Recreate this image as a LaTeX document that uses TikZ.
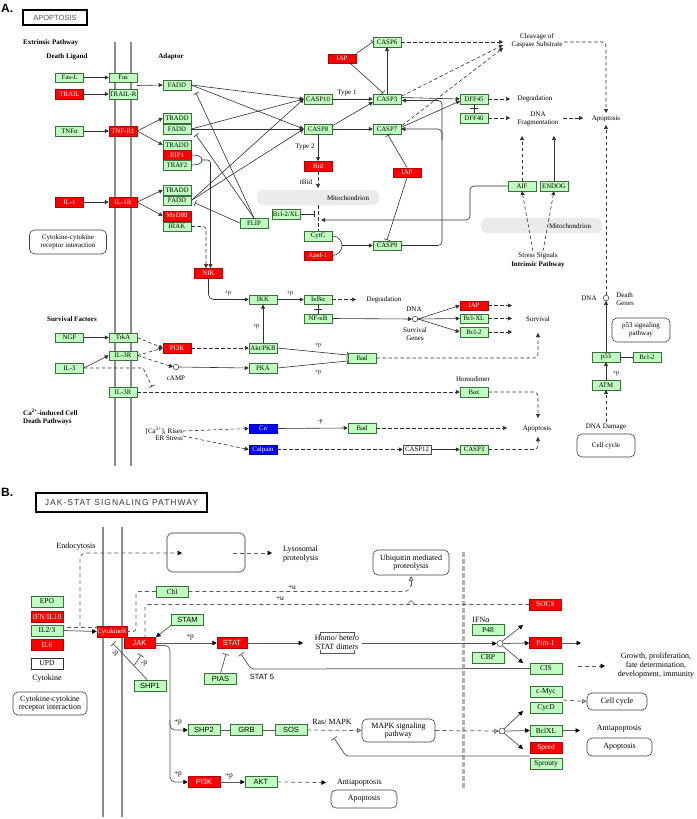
\documentclass[tikz,border=0pt]{standalone}
\usepackage{fontspec}
\setmainfont{Liberation Serif}
\newfontfamily\lsans{Liberation Sans}
\newfontfamily\jsfont[LetterSpace=12]{Liberation Sans}
\usetikzlibrary{arrows.meta}
\definecolor{kgreen}{HTML}{BFFFBF}
\definecolor{kgdraw}{HTML}{3C6E3C}
\definecolor{kred}{HTML}{FF0000}
\definecolor{kblue}{HTML}{0000FF}
\definecolor{kline}{HTML}{303030}
\definecolor{klineb}{HTML}{5A5A5A}
\newcommand\kfa{\fontsize{6.8}{7.2}\selectfont}
\newcommand\kfl{\fontsize{7}{7.6}\selectfont}
\newcommand\kfb{\fontsize{7.5}{8}\selectfont}
\newcommand\kfbs{\lsans\fontsize{7.5}{8}\selectfont}
\newcommand\kflb{\fontsize{8}{8.6}\selectfont}
\newcommand\kfp{\fontsize{6}{6}\selectfont}
\tikzset{
 gb/.style={draw=kgdraw, fill=kgreen, minimum width=28pt, minimum height=9.5pt, inner sep=0pt, font=\kfa, line width=0.5pt},
 rb/.style={gb, fill=kred, draw=kred!70!black, text=white},
 bb/.style={gb, fill=kblue, draw=kblue!60!black, text=white},
 wb/.style={gb, fill=white, draw=black!70},
 gbb/.style={gb, minimum width=32pt, minimum height=11pt, font=\kfb},
 rbb/.style={gbb, fill=kred, draw=kred!70!black, text=white},
 wbb/.style={gbb, fill=white, draw=black!80},
 lbl/.style={inner sep=0pt, align=center, font=\kfl},
 lblb/.style={inner sep=0pt, align=center, font=\kflb},
 lbold/.style={inner sep=0pt, align=left, font=\kfl\bfseries},
 pl/.style={inner sep=0pt, font=\kfp},
 rnd/.style={draw=black!75, rounded corners=5pt, align=center, inner sep=0pt, line width=0.6pt},
 ln/.style={draw=kline, line width=0.6pt},
 arr/.style={ln, -{Triangle[length=4pt,width=4pt]}},
 inh/.style={ln, -{Bar[width=6pt]}},
 dsh/.style={dash pattern=on 3.5pt off 2.5pt},
 lnb/.style={draw=klineb, line width=0.75pt},
 arrb/.style={lnb, -{Triangle[length=4.5pt,width=4.5pt,color=black]}},
 inhb/.style={lnb, -{Bar[width=7pt]}},
 oarrb/.style={lnb, -{Triangle[open,length=4.5pt,width=4.5pt]}},
 dshb/.style={dash pattern=on 4pt off 3pt},
 mem/.style={draw=black!45, line width=2.2pt},
 cir/.style={circle, draw=black!80, line width=0.5pt, minimum size=5.5pt, inner sep=0pt},
}
\begin{document}
\begin{tikzpicture}[x=1pt,y=-1pt]
\useasboundingbox (0,0) rectangle (696,819);
\fill[white] (0,0) rectangle (696,819);

%%%%%%%%%%%%%%%%%%%% PANEL A %%%%%%%%%%%%%%%%%%%%
\node[anchor=west, inner sep=0pt, font=\lsans\bfseries\fontsize{12}{12}\selectfont] (Alab) at (1,8) {A.};
\node[draw=black, line width=1.3pt, minimum width=64pt, minimum height=15pt, inner sep=0pt,
      font=\lsans\fontsize{7.5}{8}\selectfont, text=black!65] (apobox) at (55,17.5) {APOPTOSIS};

\draw[mem] (115,42) -- (115,466);
\draw[mem] (131,42) -- (131,466);

\fill[black!8, rounded corners=6pt] (257,190) rectangle (379,205);
\node[lbl] (mito1) at (348,198) {Mitochondrion};
\fill[black!8, rounded corners=6pt] (481,218) rectangle (602,233);
\node[lbl] (mito2) at (570,226) {Mitochondrion};

\node[lbold, anchor=west] (extp) at (23,43) {Extrinsic Pathway};
\node[lbold] (dlig) at (67,57) {Death Ligand};
\node[lbold] (adap) at (171,57) {Adaptor};

\node[gb] (FasL) at (69.5,77.5) {Fas-L};
\node[gb] (Fas) at (123,77.5) {Fas};
\node[rb] (TRAIL) at (69.5,94) {TRAIL};
\node[gb] (TRAILR) at (123,94) {TRAIL-R};
\node[gb] (FADD1) at (177,85) {FADD};
\node[gb] (TNFa) at (69.5,131) {TNFα};
\node[rb] (TNFR1) at (123,131) {TNF-R1};
\node[gb] (TRADD1) at (177,118) {TRADD};
\node[gb] (FADD2) at (177,129) {FADD};
\node[gb] (TRADD2) at (177,145) {TRADD};
\node[rb] (RIP1) at (177,155) {RIP1};
\node[gb] (TRAF2) at (177,165) {TRAF2};
\node[rb] (IL1) at (69.5,202) {IL-1};
\node[rb] (IL1R) at (123,202) {IL-1R};
\node[gb] (TRADD3) at (177,190) {TRADD};
\node[gb] (FADD3) at (177,200.5) {FADD};
\node[rb] (MyD88) at (177,216) {MyD88};
\node[gb] (IRAK) at (177,226.5) {IRAK};
\node[gb] (FLIP) at (254,223) {FLIP};
\node[gb] (CASP10) at (318,99) {CASP10};
\node[gb] (CASP8) at (318,129) {CASP8};
\node[rb] (Bid) at (318,166) {Bid};
\node[gb] (Bcl2XL) at (286,214) {Bcl-2/XL};
\node[gb] (CytC) at (318,236) {CytC};
\node[rb] (Apaf1) at (318,255.5) {Apaf-1};
\node[gb] (CASP9) at (387,245.5) {CASP9};
\node[rb] (IAP2) at (407,172.5) {IAP};
\node[gb] (CASP3) at (387,99) {CASP3};
\node[gb] (CASP7) at (387,129) {CASP7};
\node[gb] (CASP6) at (387,42) {CASP6};
\node[rb] (IAP1) at (342,58.5) {IAP};
\node[gb] (DFF45) at (474,99) {DFF45};
\node[gb] (DFF40) at (474,118) {DFF40};
\node[gb] (AIF) at (522,186) {AIF};
\node[gb] (ENDOG) at (554,186) {ENDOG};

\node[lbl] (type1) at (347,93) {Type 1};
\node[lbl] (type2) at (305,147) {Type 2};
\node[lbl] (tbid) at (306,182) {tBid};
\node[lbl] (cleav) at (537,41) {Cleavage of\\Caspase Substrate};
\node[lbl] (degr1) at (535,99) {Degradation};
\node[lbl] (dnafr) at (538,119) {DNA\\Fragmentation};
\node[lbl] (apo1) at (606,119) {Apoptosis};
\node[lbl] (stress) at (538,256) {Stress Signals};
\node[lbold, align=center] (intr) at (538,265) {Intrinsic Pathway};
\node[rnd, lbl, minimum width=77pt, minimum height=24pt] (ccri) at (68,242) {Cytokine-cytokine\\receptor interaction};

% extrinsic connectors
\draw[arr] (FasL.east) -- (Fas.west);
\draw[arr] (TRAIL.east) -- (TRAILR.west);
\draw[arr] (TNFa.east) -- (TNFR1.west);
\draw[arr] (IL1.east) -- (IL1R.west);
\coordinate (fasj) at (137,85.5);
\draw[arr] (fasj) -- (FADD1.west);
\draw[arr] (TNFR1.east) -- (TRADD1.west);
\draw[arr] (TNFR1.east) -- (TRADD2.west);
\draw[arr] (IL1R.east) -- (TRADD3.west);
\draw[arr] (IL1R.east) -- (MyD88.west);
\foreach \f in {FADD1,FADD2,FADD3}{
  \draw[arr] (\f.east) -- (CASP10.west);
  \draw[arr] (\f.east) -- (CASP8.west);
}
\draw[inh] (FLIP.north) -- (196,93);
\draw[inh] (FLIP.north) -- (196,135);
\draw[inh] (FLIP.west) -- (195,203);
\draw[arr] (CASP10.east) -- (CASP3.west);
\draw[arr] (332,126) -- (373,102);
\draw[arr] (CASP8.east) -- (CASP7.west);
\draw[arr] (CASP8.south) -- (Bid.north);
\draw[arr, dsh] (Bid.south) -- (318,188);
\draw[ln, dsh] (318,205) -- (CytC.north);
\draw[inh] (Bcl2XL.east) -- (315,214);
\draw[arr, rounded corners=4pt] (AIF.west) -- (470,186) -- (470,220) -- (321,220);
\draw[ln] (CytC.east) to[out=0,in=90] (342,245.5) to[out=-90,in=0] (Apaf1.east);
\draw[arr] (342,245.5) -- (CASP9.west);
\draw[arr, rounded corners=4pt] (CASP9.east) -- (442,245.5) -- (442,100.5) -- (402,100.5);
\draw[arr, rounded corners=4pt] (442,140) |- (CASP7.east);
\draw[inh] (IAP2.north) -- (388,135);
\draw[inh] (IAP2.south) -- (387,240);
\draw[arr] (402,97.5) -- (DFF45.west);
\draw[arr] (402,127) -- (460,101);
\draw[arr] (CASP3.north) -- (CASP6.south);
\draw[inh] (IAP1.north east) -- (CASP6.west);
\draw[inh] (350,63) -- (383,93);
\draw[arr, dsh] (CASP6.east) -- (503,42);
\draw[arr, dsh] (402,96) -- (503,45);
\draw[arr, dsh] (402,125.5) -- (503,48);
\draw[arr, dsh, rounded corners=4pt] (564,42) -- (606,42) -- (606,113);
\draw[arr, dsh] (DFF45.east) -- (510,99);
\draw[arr, dsh] (DFF40.east) -- (510,118);
\draw[arr, dsh] (563,118) -- (583,118);
\draw[ln] (DFF45.south) -- (DFF40.north);
\draw[ln] (470,108.5) -- (478,108.5);
\draw[arr, dsh] (AIF.north) -- (522,136);
\draw[arr] (ENDOG.north) -- (554,136);
\draw[arr, dsh] (533,251) -- (AIF.south);
\draw[arr, dsh] (543,251) -- (ENDOG.south);

% NIK / survival
\node[rb] (NIK) at (208.5,273) {NIK};
\node[gb] (IKK) at (263,299.5) {IKK};
\node[gb] (IkBa) at (318,299.5) {IκBα};
\node[gb] (NFkB) at (318,318.5) {NF-κB};
\node[rb] (IAP3) at (474,305.5) {IAP};
\node[gb] (BclXL) at (474,318.5) {Bcl-XL};
\node[gb] (Bcl2a) at (474,332) {Bcl-2};
\node[gb] (Bad1) at (362,358) {Bad};
\node[rb] (PI3Ka) at (177,348) {PI3K};
\node[gb] (AktPKB) at (263,348) {Akt/PKB};
\node[gb] (PKA) at (263,368) {PKA};
\node[gb] (TrkA) at (123,337.5) {TrkA};
\node[gb] (IL3Ra) at (123,355.5) {IL-3R};
\node[gb] (NGF) at (69.5,337.5) {NGF};
\node[gb] (IL3) at (69.5,368) {IL-3};
\node[gb] (IL3Rb) at (123,392) {IL-3R};
\node[gb] (Bax) at (474,392) {Bax};
\node[bb] (Cn) at (263,428.5) {Cn};
\node[bb] (Calpain) at (263,449.5) {Calpain};
\node[gb] (Bad2) at (362,428) {Bad};
\node[wb] (CASP12) at (417,449.5) {CASP12};
\node[gb] (CASP3b) at (474,449.5) {CASP3};
\node[gb] (p53) at (606,357) {p53};
\node[gb] (Bcl2b) at (647,357) {Bcl-2};
\node[gb] (ATM) at (606,385) {ATM};
\node[cir] (dnac) at (415,319) {};
\node[cir] (camp) at (176,367) {};
\node[cir] (dgc) at (606,298) {};

\node[pl] (p1) at (228,293) {+p};
\node[pl] (p2) at (290,293) {+p};
\node[pl] (p3) at (256,326) {+p};
\node[pl] (p4) at (318,345) {+p};
\node[pl] (p5) at (318,372) {+p};
\node[pl] (p6) at (320,422) {-p};
\node[pl] (p7) at (616,373) {+p};
\node[lbl] (degr2) at (384,300) {Degradation};
\node[lbl] (dnal) at (414,309) {DNA};
\node[lbl] (survg) at (415,334) {Survival\\Genes};
\node[lbl] (surv) at (538,319) {Survival};
\node[lbold] (survf) at (72,319) {Survival Factors};
\node[lbl] (campl) at (176,378) {cAMP};
\node[lbl] (homod) at (473,379) {Homodimer};
\node[lbl] (apo2) at (537,429) {Apoptosis};
\node[lbold, anchor=west] (cadp) at (23,417) {Ca\textsuperscript{2+}-induced Cell\\Death Pathways};
\node[lbl, align=right, anchor=east] (carise) at (183,434) {[Ca\textsuperscript{2+}]\textsubscript{i} Rises\\ER Stress};
\node[lbl] (dnal2) at (589,298) {DNA};
\node[lbl, align=left] (dgen) at (625,299) {Death\\Genes};
\node[rnd, lbl, minimum width=58pt, minimum height=24pt] (p53sp) at (641,330) {p53 signaling\\pathway};
\node[lbl] (dnad) at (606,427) {DNA Damage};
\node[rnd, lbl, minimum width=58pt, minimum height=23pt] (ccyc1) at (606,445.5) {Cell cycle};

\draw[ln] (RIP1.east) to[out=0,in=90] (202,160) to[out=-90,in=0] (TRAF2.east);
\draw[arr, rounded corners=3pt] (202,160) -- (210.5,160) -- (210.5,268);
\draw[arr, dsh, rounded corners=3pt] (IRAK.east) -- (206,226.5) -- (206,268);
\draw[arr, rounded corners=5pt] (NIK.south) |- (IKK.west);
\draw[arr] (IKK.east) -- (IkBa.west);
\draw[arr, dsh] (IkBa.east) -- (356,299.5);
\draw[ln] (IkBa.south) -- (NFkB.north);
\draw[ln] (314,309) -- (322,309);
\draw[arr] (NFkB.east) -- (dnac.west);
\draw[arr] (dnac.east) -- (IAP3.west);
\draw[arr] (dnac.east) -- (BclXL.west);
\draw[arr] (dnac.east) -- (Bcl2a.west);
\draw[arr, dsh] (IAP3.east) -- (512,305.5);
\draw[arr, dsh] (BclXL.east) -- (512,318.5);
\draw[arr, dsh] (Bcl2a.east) -- (512,332);
\draw[arr, dsh, rounded corners=4pt] (Bad1.east) -| (538,333);
\draw[inh] (AktPKB.east) -- (347.5,355);
\draw[inh] (PKA.east) -- (347.5,361);
\draw[arr] (AktPKB.north) -- (IKK.south);
\draw[arr, dsh] (PI3Ka.east) -- (AktPKB.west);
\draw[arr, dsh] (TrkA.east) -- (PI3Ka.west);
\draw[arr, dsh] (IL3Ra.east) -- (PI3Ka.west);
\draw[arr, dsh] (IL3Ra.east) -- (camp.west);
\draw[arr] (NGF.east) -- (TrkA.west);
\draw[arr] (IL3.east) -- (IL3Ra.west);
\draw[inh, dsh] (IL3.east) -- (143,368) -- (152,386.5);
\draw[arr] (camp.east) -- (PKA.west);
\draw[arr, dsh] (IL3Rb.east) -- (Bax.west);
\draw[arr, dsh, rounded corners=4pt] (Bax.east) -| (538,418);
\draw[arr, dsh] (183,431) -- (Cn.west);
\draw[arr, dsh] (183,436) -- (Calpain.west);
\draw[arr] (Cn.east) -- (Bad2.west);
\draw[arr, dsh] (Bad2.east) -- (507,428);
\draw[arr, dsh] (Calpain.east) -- (CASP12.west);
\draw[arr] (CASP12.east) -- (CASP3b.west);
\draw[arr, dsh, rounded corners=4pt] (CASP3b.east) -| (538,437);
\draw[arr] (p53.north) -- (dgc.south);
\draw[arr] (ATM.north) -- (p53.south);
\draw[inh] (Bcl2b.west) -- (p53.east);
\draw[arr, dsh] (606,422) -- (ATM.south);
\draw[arr, dsh] (dgc.north) -- (606,125);

%%%%%%%%%%%%%%%%%%%% PANEL B %%%%%%%%%%%%%%%%%%%%
\node[anchor=west, inner sep=0pt, font=\lsans\bfseries\fontsize{12}{12}\selectfont] (Blab) at (1,492) {B.};
\node[draw=black, line width=1.3pt, minimum width=171pt, minimum height=19pt, inner sep=0pt,
      font=\jsfont\fontsize{8.5}{9}\selectfont, text=black!80] (jsbox) at (121.5,502.5) {JAK-STAT SIGNALING PATHWAY};

\draw[mem] (103,527) -- (103,817);
\draw[mem] (122,527) -- (122,817);
\draw[draw=black!30, line width=3pt, dash pattern=on 5pt off 2pt] (463,552) -- (463,790);
\draw[draw=black!45, line width=1.2pt, rounded corners=6pt] (167,533) rectangle (245,572);

\node[gbb] (EPO) at (47,601.5) {EPO};
\node[rbb] (IFN) at (47,617) {IFN/IL10};
\node[gbb] (IL23) at (47,630.5) {IL2/3};
\node[rbb] (IL6) at (47,645) {IL6};
\node[wbb] (UPD) at (47,663.5) {UPD};
\node[rbb, minimum width=30pt, font=\kfa] (CytR) at (112,631.5) {CytokineR};
\node[rbb, minimum width=31pt, font=\kfbs] (JAK) at (139.5,643) {JAK};
\node[gbb, font=\kfbs] (STAM) at (187.5,619.5) {STAM};
\node[rbb, minimum width=30pt, font=\kfbs] (STAT) at (232,643) {STAT};
\node[gbb] (Cbl) at (172,591.5) {Cbl};
\node[rbb] (SOCS) at (545.5,604.5) {SOCS};
\node[gbb] (P48) at (488,630) {P48};
\node[gbb] (CBP) at (488,657.5) {CBP};
\node[rbb] (Pim1) at (545.5,643) {Pim-1};
\node[gbb] (CIS) at (546,668.5) {CIS};
\node[gbb] (cMyc) at (546,692) {c-Myc};
\node[gbb] (CycD) at (546,707.5) {CycD};
\node[gbb] (BclXLb) at (546,730.5) {BclXL};
\node[rbb] (Spred) at (546,748) {Spred};
\node[gbb] (Sprouty) at (546,763.5) {Sprouty};
\node[gbb, font=\kfbs] (PIAS) at (220.5,679) {PIAS};
\node[gbb, font=\kfbs] (SHP1) at (150,685.5) {SHP1};
\node[gbb, font=\kfbs] (SHP2) at (204,730) {SHP2};
\node[gbb, font=\kfbs] (GRB) at (246.5,730) {GRB};
\node[gbb, font=\kfbs] (SOS) at (291,730) {SOS};
\node[rbb, font=\kfbs] (PI3Kb) at (204,782) {PI3K};
\node[gbb, font=\kfbs] (AKT) at (261,782) {AKT};
\node[cir, minimum size=6pt] (c1) at (500,643.5) {};
\node[cir, minimum size=6pt] (c2) at (502,731) {};

\node[lblb] (endo) at (76,547) {Endocytosis};
\node[lblb, anchor=west, align=left] (lyso) at (283,554) {Lysosomal\\proteolysis};
\node[lblb] (cytk) at (47,679) {Cytokine};
\node[rnd, lblb, minimum width=74pt, minimum height=23pt] (ccri2) at (50,703.5) {Cytokine-cytokine\\receptor interaction};
\node[pl, font=\kfb] (u1) at (292,587) {+u};
\node[pl, font=\kfb] (u2) at (280,598) {+u};
\node[rnd, lblb, minimum width=76pt, minimum height=25pt] (ubiq) at (411,562.5) {Ubiquitin mediated\\proteolysis};
\node[pl, font=\kfb] (pb1) at (190,637) {+p};
\node[lblb] (dimers) at (337,642) {Homo/ hetero\\STAT dimers};
\node[inner sep=0pt, font=\kfbs] (stat5) at (262,677) {STAT 5};
\node[pl, font=\kfb] (mp1) at (115,654) {-p};
\node[pl, font=\kfb] (mp2) at (144,664) {-p};
\node[lblb] (ifna) at (481,620) {IFNα};
\node[lblb] (growth) at (656,665.5) {Growth, proliferation,\\fate determination,\\development, immunity};
\node[rnd, lblb, minimum width=60pt, minimum height=17pt] (ccyc2) at (617,701.5) {Cell cycle};
\node[lblb] (anti1) at (619,729) {Antiapoptosis};
\node[rnd, lblb, minimum width=65pt, minimum height=18pt] (apob1) at (619.5,747) {Apoptosis};
\node[pl, font=\kfb] (pb2) at (178,722) {+p};
\node[pl, font=\kfb] (pb3) at (178,774) {+p};
\node[pl, font=\kfb] (pb4) at (229,776) {+p};
\node[lblb] (rasm) at (332,722) {Ras/ MAPK};
\node[rnd, lblb, minimum width=73pt, minimum height=23pt] (mapk) at (398.5,730.5) {MAPK signaling\\pathway};
\node[lblb, anchor=west] (anti2) at (337,783) {Antiapoptosis};
\node[rnd, lblb, minimum width=66pt, minimum height=18pt] (apob2) at (364,799) {Apoptosis};

% dimer brackets
\draw[lnb, line width=0.5pt] (320,635.5) -- (320,632.5) -- (354,632.5) -- (354,635.5);
\draw[lnb, line width=0.5pt] (320,650) -- (320,653) -- (354,653) -- (354,650);

% panel B connectors
\draw[arrb] (IL23.east) -- (CytR.west);
\draw[lnb, dshb] (67,627) -- (CytR.west |- 0,627);
\draw[arrb, dshb, rounded corners=5pt] (80,626) -- (80,553) -- (182,553);
\draw[arrb, dshb] (233,553) -- (272,553);
\draw[arrb] (STAM.south west) -- (156,637);
\draw[arrb] (JAK.east) -- (STAT.west);
\draw[arrb] (STAT.east) -- (303,643);
\draw[arrb] (362,643.5) -- (c1.west);
\draw[arrb] (c1.north east) -- (523,625);
\draw[arrb] (c1.east) -- (Pim1.west);
\draw[arrb] (c1.south east) -- (523,663);
\draw[arrb] (Pim1.east) -- (581,643);
\draw[arrb, dshb] (578,666) -- (605,666);
\draw[inhb] (PIAS.north) -- (226,654);
\draw[inhb, rounded corners=3pt] (CIS.west) -- (251,669) -- (241,654);
\draw[inhb] (147,679.5) -- (113,643.5);
\draw[inhb] (134.5,665) -- (141,655);
\draw[lnb, dshb, rounded corners=3pt] (Cbl.west) -- (136,591.5) -- (136,631.5) -- (CytR.east);
\draw[lnb, dshb, rounded corners=3pt] (SOCS.west) -- (145,604.5) -- (145,638);
\draw[lnb, dshb] (Cbl.east) -- (404,591.5) to[out=0,in=-90] (411,585);
\draw[oarrb] (411,585.5) -- (411,576);
\draw[lnb, line width=0.5pt] (407,604.5) -- (411,600.5) -- (415,604.5);
\draw[arrb, rounded corners=5pt] (155,645.5) -- (170,645.5) -- (170,730) -- (SHP2.west);
\draw[arrb, rounded corners=5pt] (170,720) -- (170,782) -- (PI3Kb.west);
\draw[lnb] (SHP2.east) -- (GRB.west);
\draw[lnb] (GRB.east) -- (SOS.west);
\draw[oarrb, dshb] (SOS.east) -- (mapk.west);
\draw[inhb, rounded corners=3pt] (530,756) -- (346,756) -- (334,738);
\draw[oarrb, dshb] (mapk.east) -- (c2.west);
\draw[arrb] (c2.north east) -- (523,711);
\draw[arrb] (c2.east) -- (BclXLb.west);
\draw[arrb] (c2.south east) -- (523,749);
\draw[arrb] (BclXLb.east) -- (580,730.5);
\draw[oarrb, dshb] (563,700) -- (ccyc2.west);
\draw[arrb] (PI3Kb.east) -- (AKT.west);
\draw[arrb, dshb] (AKT.east) -- (326,782.5);
\end{tikzpicture}
\end{document}
